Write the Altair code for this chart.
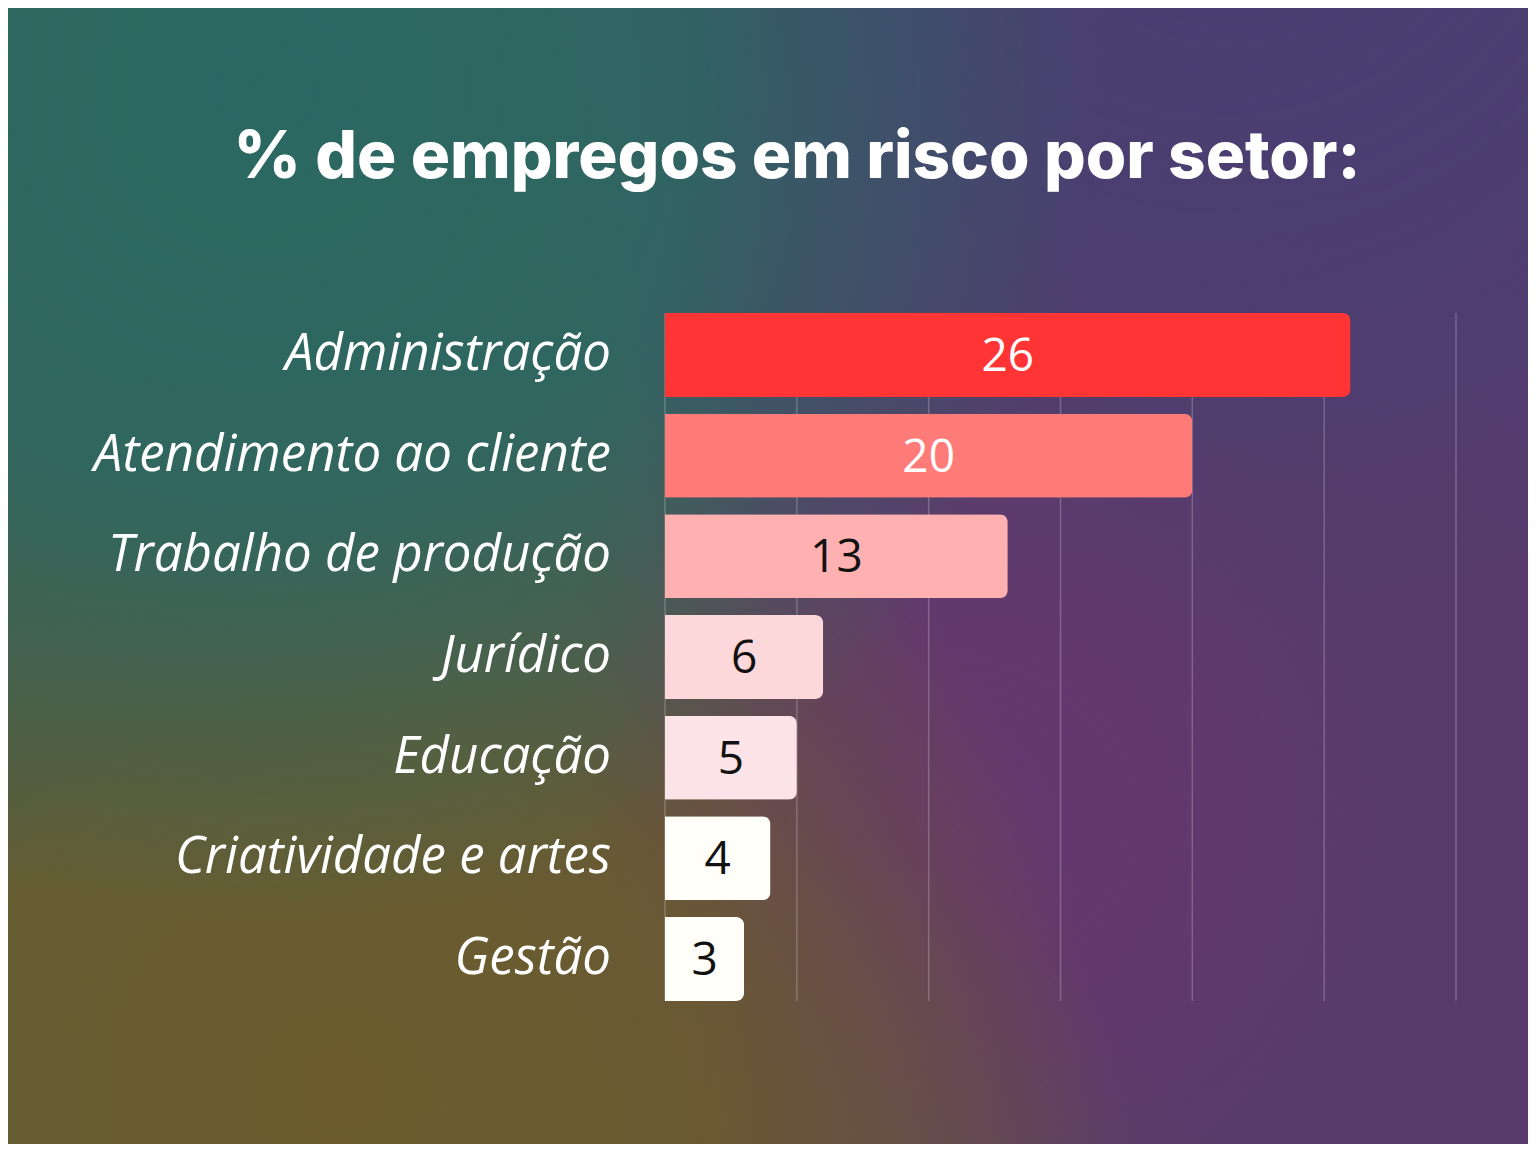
import altair as alt
import pandas as pd

sectors = ["Administração", "Atendimento ao cliente", "Trabalho de produção",
           "Jurídico", "Educação", "Criatividade e artes", "Gestão"]
values = [26, 20, 13, 6, 5, 4, 3]
bar_colors = ["#FF3535", "#FF7B78", "#FFB0B0", "#FDD8DA", "#FCE3E7", "#FFFEF9", "#FFFEF9"]
label_colors = ["#FFFFFF", "#FFFFFF", "#111111", "#111111", "#111111", "#111111", "#111111"]
grid_ticks = [0, 5, 10, 15, 20, 25, 30]
title_text = "% de empregos em risco por setor:"

W, H = 1520, 1136

df = pd.DataFrame({"sector": sectors, "value": values,
                   "bar_color": bar_colors, "label_color": label_colors})
grid_df = pd.DataFrame({"tick": grid_ticks})
one = pd.DataFrame({"k": [0]})

xscale = alt.Scale(domain=[0, 30], range=[657, 1448])
yscale = alt.Scale(domain=sectors, range=[296.7, 1001.3], paddingInner=0.166, paddingOuter=0.083)


def stop(o, c):
    return alt.GradientStop(offset=o, color=c)


def bg(fill):
    return alt.Chart(one).mark_rect(fill=fill, strokeWidth=0).encode(
        x=alt.value(0), x2=alt.value(W), y=alt.value(0), y2=alt.value(H))


def radial(cx, cy, r, rgb, a0, amid):
    return bg(alt.RadialGradient(gradient="radial", x1=cx, y1=cy, r1=0, x2=cx, y2=cy, r2=r,
                                 stops=[stop(0, f"rgba({rgb},{a0})"), stop(0.5, f"rgba({rgb},{amid})"),
                                        stop(1, f"rgba({rgb},0)")]))


base_bg = bg(alt.LinearGradient(gradient="linear", x1=0, y1=0, x2=1, y2=0,
                                stops=[stop(0, "#485e4c"), stop(0.38, "#4c5a54"),
                                       stop(0.5, "#573f66"), stop(1, "#573a6c")]))
topright = radial(0.8, 0.0, 0.55, "72,62,114", 1, 0.8)
magenta = radial(0.63, 0.66, 0.3, "104,54,112", 0.9, 0.6)
bottom = radial(0.45, 1.0, 0.35, "106,80,70", 0.8, 0.5)
olive = radial(0.22, 0.84, 0.5, "108,92,44", 1, 0.8)
teal = radial(0.17, 0.18, 0.55, "43,104,98", 1, 0.85)

grid = alt.Chart(grid_df).mark_rule(color="rgba(255,255,255,0.22)", strokeWidth=1.5).encode(
    x=alt.X("tick:Q", scale=xscale, axis=None),
    y=alt.value(305), y2=alt.value(993))

bars = alt.Chart(df).mark_bar(cornerRadiusTopRight=8, cornerRadiusBottomRight=8).encode(
    x=alt.X("value:Q", scale=xscale, axis=None),
    y=alt.Y("sector:N", scale=yscale, axis=None, sort=sectors),
    fill=alt.Fill("bar_color:N", scale=None))

values_text = alt.Chart(df).transform_calculate(mid="datum.value / 2").mark_text(
    font="Open Sans", fontSize=46, align="center", baseline="middle", dy=2).encode(
    x=alt.X("mid:Q", scale=xscale, axis=None),
    y=alt.Y("sector:N", scale=yscale, axis=None, sort=sectors),
    text=alt.Text("value:Q"),
    color=alt.Color("label_color:N", scale=None))

cat_text = alt.Chart(df).mark_text(
    font="Open Sans", fontStyle="italic", fontWeight=400, fontSize=51, align="right",
    baseline="middle", color="#FFFFFF", dy=0).encode(
    x=alt.value(603),
    y=alt.Y("sector:N", scale=yscale, axis=None, sort=sectors),
    text="sector:N")

title = alt.Chart(pd.DataFrame({"t": [title_text]})).mark_text(
    font="Inter", fontWeight=800, fontSize=65.5, align="center", baseline="alphabetic",
    color="#FFFFFF").encode(
    x=alt.value(789), y=alt.value(170), text="t:N")

chart = alt.layer(base_bg, topright, magenta, bottom, olive, teal, grid, bars, values_text, cat_text, title).properties(
    width=W, height=H, autosize=alt.AutoSizeParams(type="none"), padding=0,
    background="#4e3d6e"
).configure_view(stroke=None)

chart.save("out.html", embed_options={"renderer": "svg", "actions": False})
